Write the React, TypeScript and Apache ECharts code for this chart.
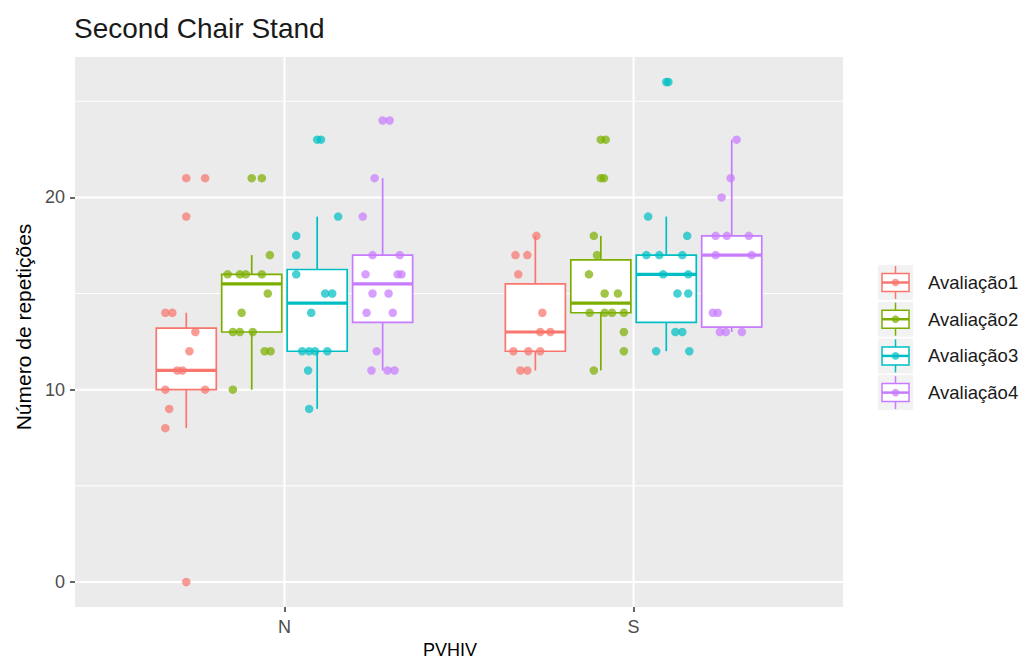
import React, { useEffect, useRef } from "react";
import * as echarts from "echarts";

const CATEGORIES = ["N", "S"];
const GROUPS = ["Avaliação1", "Avaliação2", "Avaliação3", "Avaliação4"];
const COLORS = ["#F8766D", "#7CAE00", "#00BFC4", "#C77CFF"];
const Y_TICKS = [0, 10, 20];
const Y_MINOR = [5, 15, 25];

// box statistics per group: [min, Q1, median, Q3, max] for N then S
const BOX_A1 = [[8, 10, 11, 13.2, 14], [11, 12, 13, 15.5, 18]];
const BOX_A2 = [[10, 13, 15.5, 16, 17], [11, 14, 14.5, 16.75, 18]];
const BOX_A3 = [[9, 12, 14.5, 16.25, 19], [12, 13.5, 16, 17, 19]];
const BOX_A4 = [[11, 13.5, 15.5, 17, 21], [13, 13.25, 17, 18, 23]];

// observed points: [jitter offset (category units), value]
const PTS_A1_N = [[0, 21], [0.054, 21], [0, 19], [-0.06, 14], [-0.04, 14], [0.026, 13], [0.009, 12], [-0.026, 11], [-0.011, 11], [-0.06, 10], [0.054, 10], [-0.049, 9], [-0.06, 8], [0, 0]];
const PTS_A2_N = [[0, 21], [0.029, 21], [0.052, 17], [-0.069, 16], [-0.034, 16], [-0.017, 16], [0.029, 16], [0.046, 15], [-0.029, 14], [-0.054, 13], [-0.034, 13], [0.003, 13], [0.037, 12], [0.054, 12], [-0.054, 10]];
const PTS_A3_N = [[0, 23], [0.011, 23], [0.06, 19], [-0.06, 18], [-0.06, 17], [-0.06, 16], [0.023, 15], [0.043, 15], [-0.017, 14], [-0.043, 12], [-0.023, 12], [-0.006, 12], [0.029, 12], [-0.026, 11], [-0.023, 9]];
const PTS_A4_N = [[0, 24], [0.02, 24], [-0.023, 21], [-0.057, 19], [-0.029, 17], [0.049, 17], [-0.049, 16], [0.043, 16], [0.054, 16], [-0.029, 15], [0.017, 15], [-0.046, 14], [0.029, 14], [-0.017, 12], [-0.032, 11], [0.014, 11], [0.034, 11]];
const PTS_A1_S = [[0.003, 18], [-0.057, 17], [-0.023, 17], [-0.049, 16], [0.02, 14], [0.014, 13], [0.043, 13], [-0.063, 12], [-0.02, 12], [0.014, 12], [-0.043, 11], [-0.023, 11]];
const PTS_A2_S = [[0, 23], [0.014, 23], [0, 21], [0.009, 21], [-0.02, 18], [-0.011, 17], [-0.034, 16], [0.011, 15], [0.049, 15], [-0.032, 14], [0.011, 14], [0.032, 14], [0.066, 14], [0.066, 13], [0.066, 12], [-0.02, 11]];
const PTS_A3_S = [[0, 26], [0.006, 26], [-0.052, 19], [0.06, 18], [-0.057, 17], [-0.02, 17], [0.046, 17], [-0.009, 16], [0.063, 16], [0.032, 15], [0.063, 15], [0.026, 13], [0.046, 13], [-0.029, 12], [0.066, 12]];
const PTS_A4_S = [[0.014, 23], [-0.003, 21], [-0.029, 20], [-0.046, 18], [-0.014, 18], [0.049, 18], [-0.046, 17], [0.057, 17], [-0.054, 14], [-0.04, 14], [-0.034, 13], [-0.017, 13], [0.029, 13]];

const BOXES = [BOX_A1, BOX_A2, BOX_A3, BOX_A4];
const POINTS = [
  [PTS_A1_N, PTS_A1_S],
  [PTS_A2_N, PTS_A2_S],
  [PTS_A3_N, PTS_A3_S],
  [PTS_A4_N, PTS_A4_S],
];

const DODGE = [-0.28125, -0.09375, 0.09375, 0.28125];
const BOX_HALF = 0.086;
const FONT = "'Liberation Sans', Arial, sans-serif";

function gridSeries(values: number[], horizontal: boolean, width: number) {
  return {
    type: "custom",
    silent: true,
    z: 0,
    data: values.map((v) => (horizontal ? [1, v] : [v, 0])),
    renderItem: (params: any, api: any) => {
      const cs = params.coordSys;
      if (horizontal) {
        const y = api.coord([1, api.value(1)])[1];
        return {
          type: "line",
          shape: { x1: cs.x, y1: y, x2: cs.x + cs.width, y2: y },
          style: { stroke: "#ffffff", lineWidth: width },
        };
      }
      const x = api.coord([api.value(0), 0])[0];
      return {
        type: "line",
        shape: { x1: x, y1: cs.y, x2: x, y2: cs.y + cs.height },
        style: { stroke: "#ffffff", lineWidth: width },
      };
    },
  };
}

function boxSeries(g: number) {
  const color = COLORS[g];
  return {
    type: "custom",
    name: GROUPS[g],
    z: 2,
    silent: true,
    data: BOXES[g].map((b, i) => [i + 1, ...b]),
    encode: { x: 0, y: [1, 2, 3, 4, 5] },
    renderItem: (params: any, api: any) => {
      const xc = api.value(0) + DODGE[g];
      const cx = api.coord([xc, 0])[0];
      const yMin = api.coord([xc, api.value(1)])[1];
      const yQ1 = api.coord([xc, api.value(2)])[1];
      const yMed = api.coord([xc, api.value(3)])[1];
      const yQ3 = api.coord([xc, api.value(4)])[1];
      const yMax = api.coord([xc, api.value(5)])[1];
      const xl = api.coord([xc - BOX_HALF, 0])[0];
      const xr = api.coord([xc + BOX_HALF, 0])[0];
      const ls = { stroke: color, lineWidth: 1.7 };
      return {
        type: "group",
        children: [
          { type: "line", shape: { x1: cx, y1: yMax, x2: cx, y2: yQ3 }, style: ls },
          { type: "line", shape: { x1: cx, y1: yQ1, x2: cx, y2: yMin }, style: ls },
          {
            type: "rect",
            shape: { x: xl, y: yQ3, width: xr - xl, height: yQ1 - yQ3 },
            style: { fill: "#ffffff", stroke: color, lineWidth: 1.7 },
          },
          { type: "line", shape: { x1: xl, y1: yMed, x2: xr, y2: yMed }, style: { stroke: color, lineWidth: 3.2 } },
        ],
      };
    },
  };
}

function pointSeries(g: number) {
  const data: number[][] = [];
  POINTS[g].forEach((pts, ci) => {
    pts.forEach(([d, v]) => data.push([ci + 1 + DODGE[g] + d, v]));
  });
  return {
    type: "scatter",
    name: GROUPS[g],
    z: 3,
    silent: true,
    symbolSize: 8.5,
    itemStyle: { color: COLORS[g], opacity: 0.72 },
    data,
  };
}

function legendGraphic() {
  const x0 = 878;
  const y0 = 265;
  const step = 36.7;
  return GROUPS.map((name, i) => {
    const c = COLORS[i];
    return {
      type: "group",
      x: x0,
      y: y0 + i * step,
      children: [
        { type: "rect", shape: { x: 0, y: 0, width: 35, height: 35 }, style: { fill: "#F2F2F2" } },
        { type: "line", shape: { x1: 17.5, y1: 1, x2: 17.5, y2: 34 }, style: { stroke: c, lineWidth: 1.5 } },
        {
          type: "rect",
          shape: { x: 4, y: 8.5, width: 27, height: 18 },
          style: { fill: "#ffffff", stroke: c, lineWidth: 1.5 },
        },
        { type: "line", shape: { x1: 4, y1: 17.5, x2: 31, y2: 17.5 }, style: { stroke: c, lineWidth: 2.5 } },
        { type: "circle", shape: { cx: 17.5, cy: 17.5, r: 3.8 }, style: { fill: c, opacity: 0.72 } },
        {
          type: "text",
          x: 50,
          y: 17.5,
          style: { text: name, fontSize: 18.5, fontFamily: FONT, fill: "#1a1a1a", verticalAlign: "middle", align: "left" },
        },
      ],
    };
  });
}

export default function App() {
  const ref = useRef<HTMLDivElement>(null);
  useEffect(() => {
    if (!ref.current) return;
    const chart = echarts.init(ref.current, undefined, { renderer: "svg" });
    const series: any[] = [
      gridSeries(Y_MINOR, true, 1),
      gridSeries(Y_TICKS, true, 2),
      gridSeries(CATEGORIES.map((_, i) => i + 1), false, 2),
    ];
    GROUPS.forEach((_, g) => series.push(boxSeries(g)));
    GROUPS.forEach((_, g) => series.push(pointSeries(g)));
    chart.setOption({
      animation: false,
      backgroundColor: "#ffffff",
      textStyle: { fontFamily: FONT },
      title: {
        text: "Second Chair Stand",
        left: 69,
        top: 9,
        textStyle: { fontSize: 28, fontWeight: "normal", color: "#1a1a1a", fontFamily: FONT },
      },
      grid: {
        left: 75,
        right: 181,
        top: 57,
        bottom: 52,
        show: true,
        backgroundColor: "#EBEBEB",
        borderWidth: 0,
        containLabel: false,
        outerBoundsMode: "none",
      },
      xAxis: {
        type: "value",
        min: 0.4,
        max: 2.6,
        axisLine: { show: false, onZero: false },
        axisTick: { show: true, customValues: [1, 2], length: 5, lineStyle: { color: "#333333", width: 1.5 } },
        axisLabel: {
          customValues: [1, 2],
          formatter: (v: number) => CATEGORIES[Math.round(v) - 1] ?? "",
          color: "#4D4D4D",
          fontSize: 18,
          margin: 11,
          fontFamily: FONT,
        },
        splitLine: { show: false },
        name: "PVHIV",
        nameLocation: "middle",
        nameGap: 29,
        nameTextStyle: { fontSize: 18, lineHeight: 18, color: "#000000", fontFamily: FONT, padding: [0, 18, 0, 0] },
      },
      yAxis: {
        type: "value",
        min: -1.3,
        max: 27.3,
        axisLine: { show: false, onZero: false },
        axisTick: { show: true, customValues: Y_TICKS, length: 5, lineStyle: { color: "#333333", width: 1.5 } },
        axisLabel: {
          customValues: Y_TICKS,
          color: "#4D4D4D",
          fontSize: 18,
          margin: 10,
          fontFamily: FONT,
        },
        splitLine: { show: false },
        name: "Número de repetições",
        nameLocation: "middle",
        nameGap: 38,
        nameTextStyle: { fontSize: 21, color: "#000000", fontFamily: FONT, padding: [0, 0, 0, 10] },
      },
      graphic: legendGraphic(),
      series,
    });
    return () => chart.dispose();
  }, []);
  return (
    <div
      ref={ref}
      style={{ position: "fixed", left: 0, top: 0, width: 1024, height: 659 }}
    />
  );
}
